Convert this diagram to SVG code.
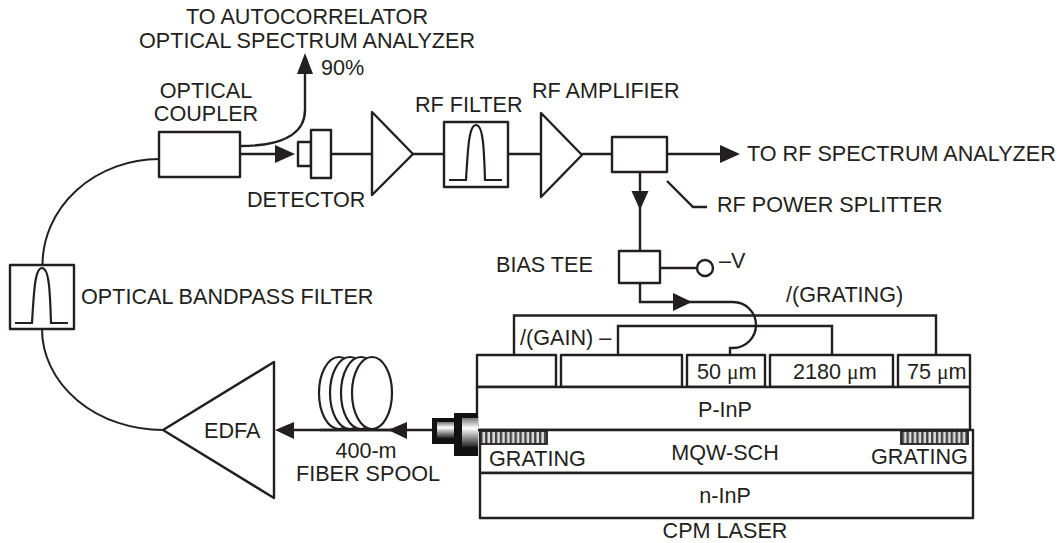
<svg xmlns="http://www.w3.org/2000/svg" width="1060" height="543" viewBox="0 0 1060 543">
<style>
text{font-family:"Liberation Sans",Arial,sans-serif;font-size:21.6px;fill:#231f20}
.m{text-anchor:middle}
.s{font-family:"Liberation Serif","Times New Roman",serif}
.b{fill:#fff;stroke:#231f20;stroke-width:2.4;stroke-linejoin:round}
.l{fill:none;stroke:#231f20;stroke-width:2.4;stroke-linejoin:miter}
.t{fill:none;stroke:#231f20;stroke-width:2}
.c{fill:none;stroke:#231f20;stroke-width:2.2}
.e{fill:#fff;stroke:#231f20;stroke-width:2.2}
.a{fill:#231f20;stroke:none}
</style>
<defs>
<linearGradient id="metal" x1="0" y1="0" x2="0" y2="1">
<stop offset="0" stop-color="#777"/><stop offset="0.35" stop-color="#fff"/><stop offset="0.75" stop-color="#777"/><stop offset="1" stop-color="#222"/>
</linearGradient>
<pattern id="hatch" width="4.9" height="14" patternUnits="userSpaceOnUse">
<rect width="4.9" height="14" fill="#ddd"/><rect width="2.4" height="14" fill="#444"/>
</pattern>
</defs>

<g id="connectors">
<path class="t" d="M42.500 265A117 106 0 0 1 159 159"/>
<path class="t" d="M42 329A121 101 0 0 0 163 430"/>
<path class="l" d="M240 146C280 146 305 135 305 110V72"/>
<polygon class="a" points="305,53 297,74 313,74"/>
<path class="l" d="M240 154H277"/>
<polygon class="a" points="295,154 275,145 275,163"/>
<path class="l" d="M331 154H372M413 154H444M508 154H541M582 154H612M667 154H722"/>
<polygon class="a" points="740,154 720,145 720,163"/>
<path class="l" d="M640 172V251"/>
<polygon class="a" points="640,210 631.500,191 648.500,191"/>
<path class="l" d="M667 181L693 207H707"/>
<path class="l" d="M660 268H697"/>
<path class="l" d="M640 283V302H733A23 23 0 0 1 733 348H730V355"/>
<polygon class="a" points="692,302 673,293 673,311"/>
<path class="l" d="M514 355V315.500H936V355"/>
<path class="l" d="M618 355V326H832V355"/>
<path class="l" d="M432 430H290"/>
<polygon class="a" points="388,430 407,422 407,439"/>
<polygon class="a" points="275,430 294,422 294,439"/>
</g>

<g id="optical-filter">
<rect class="b" x="10" y="265" width="64" height="64"/>
<path class="c" d="M15 323H32C34 290 35 268 42 268C49 268 50 290 51 323H68"/>
<text x="81" y="304">OPTICAL BANDPASS FILTER</text>
</g>
<g id="optical-coupler">
<rect class="b" x="159" y="132" width="81" height="45"/>
<text class="m" x="206" y="98">OPTICAL</text>
<text class="m" x="206" y="121">COUPLER</text>
</g>
<g id="autocorrelator-label">
<text class="m" x="307" y="24">TO AUTOCORRELATOR</text>
<text class="m" x="307" y="48">OPTICAL SPECTRUM ANALYZER</text>
<text x="321" y="75">90%</text>
</g>
<g id="detector">
<rect class="b" x="298" y="142" width="13" height="24"/>
<rect class="b" x="311" y="130" width="20" height="48"/>
<text x="247" y="207">DETECTOR</text>
</g>
<g id="amplifier-1"><polygon class="b" points="372,112 372,195 413,154"/></g>
<g id="rf-filter">
<rect class="b" x="444" y="122" width="64" height="65"/>
<path class="c" d="M449 180H466C468 147 469 125 476 125C483 125 484 147 485 180H502"/>
<text x="415" y="112">RF FILTER</text>
</g>
<g id="rf-amplifier">
<polygon class="b" points="541,113 541,197 582,155"/>
<text x="532" y="98">RF AMPLIFIER</text>
</g>
<g id="rf-splitter">
<rect class="b" x="612" y="137" width="55" height="35"/>
<text x="717" y="212">RF POWER SPLITTER</text>
</g>
<g id="rf-analyzer"><text x="747" y="161">TO RF SPECTRUM ANALYZER</text></g>
<g id="bias-tee">
<rect class="b" x="619" y="251" width="41" height="32"/>
<circle class="b" cx="705" cy="268" r="8"/>
<text x="496" y="272">BIAS TEE</text>
<text x="719" y="268">–V</text>
</g>
<g id="edfa">
<polygon class="b" points="163,430 274,362 274,498"/>
<text x="204" y="438">EDFA</text>
</g>
<g id="fiber-spool">
<ellipse class="e" cx="339" cy="393" rx="20" ry="36"/>
<ellipse class="e" cx="350" cy="393" rx="20" ry="36"/>
<ellipse class="e" cx="361" cy="393" rx="20" ry="36"/>
<ellipse class="e" cx="372" cy="393" rx="20" ry="36"/>
<path class="l" d="M320 430H392"/>
<text class="m" x="366" y="458">400-m</text>
<text x="296" y="481">FIBER SPOOL</text>
</g>
<g id="cpm-laser">
<rect class="b" x="477" y="355" width="79" height="32"/>
<rect class="b" x="561" y="355" width="121" height="32"/>
<rect class="b" x="687" y="355" width="78" height="32"/>
<rect class="b" x="770" y="355" width="123" height="32"/>
<rect class="b" x="898" y="355" width="72" height="32"/>
<rect class="b" x="477" y="387" width="493" height="43"/>
<rect class="b" x="480" y="430" width="493" height="43"/>
<rect class="b" x="480" y="473" width="493" height="45"/>
<rect x="480" y="431" width="67" height="13" fill="url(#hatch)" stroke="#231f20" stroke-width="1.8"/>
<rect x="901" y="431" width="67" height="13" fill="url(#hatch)" stroke="#231f20" stroke-width="1.8"/>
<text x="520" y="345">/(GAIN) –</text>
<text x="786" y="302">/(GRATING)</text>
<text x="697" y="379">50 <tspan class="s">μ</tspan>m</text>
<text x="793" y="379">2180 <tspan class="s">μ</tspan>m</text>
<text x="907" y="379">75 <tspan class="s">μ</tspan>m</text>
<text class="m" x="725" y="417">P-InP</text>
<text class="m" x="725" y="460">MQW-SCH</text>
<text class="m" x="725" y="503">n-InP</text>
<text x="489" y="466">GRATING</text>
<text x="871" y="464">GRATING</text>
<text class="m" x="725" y="538.300">CPM LASER</text>
</g>
<g id="fiber-connector">
<rect x="432" y="418" width="28" height="26" fill="#111"/>
<rect x="437" y="422" width="23" height="16" fill="url(#metal)"/>
<rect x="454" y="413" width="24" height="43" fill="#111"/>
<rect x="462" y="418" width="16" height="29" fill="url(#metal)"/>
</g>
</svg>
